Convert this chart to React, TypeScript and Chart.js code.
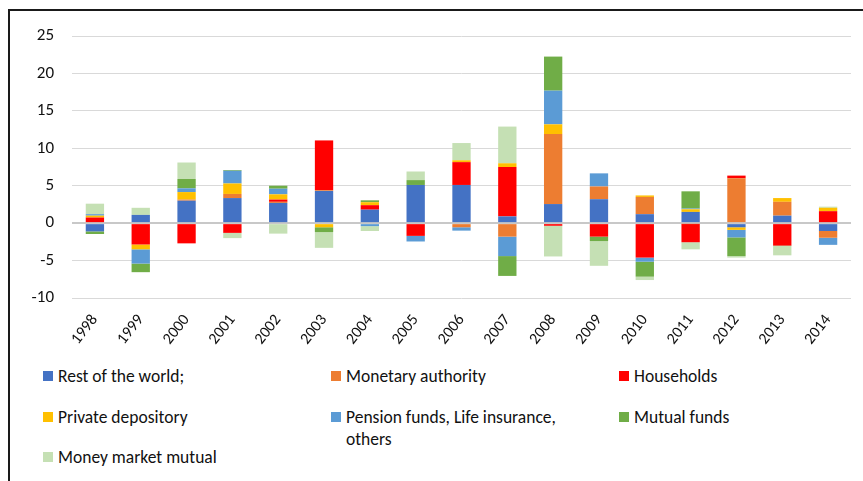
import React, { useEffect, useRef } from "react";
import { Chart, registerables } from "chart.js";

Chart.register(...registerables);

const years = ["1998","1999","2000","2001","2002","2003","2004","2005","2006","2007","2008","2009","2010","2011","2012","2013","2014"];

const restOfWorld = [-1.1, 1.1, 3.0, 3.35, 2.7, 4.3, 1.8, 5.1, 5.1, 0.9, 2.55, 3.2, 1.2, 1.5, -0.55, 1.0, -1.05];
const monetaryAuthority = [0, 0, 0.15, 0.55, 0.15, 0.1, 0, 0, -0.55, -1.8, 9.35, 1.7, 2.3, -0.1, 6.0, 1.85, -0.9];
const households = [0.75, -2.85, -2.7, -1.3, 0.3, 6.65, 0.6, -1.7, 3.05, 6.6, -0.35, -1.8, -4.6, -2.45, 0.35, -3.0, 1.6];
const privateDepository = [0.25, -0.65, 1.0, 1.4, 0.7, -0.55, 0.4, 0, 0.25, 0.5, 1.3, 0, 0.2, 0.35, -0.35, 0.5, 0.45];
const pensionFunds = [0.2, -1.9, 0.5, 1.7, 0.75, 0, -0.4, -0.75, -0.45, -2.6, 4.5, 1.75, -0.55, 0.1, -1.0, 0, -0.95];
const mutualFunds = [-0.35, -1.15, 1.25, 0.1, 0.4, -0.65, 0.25, 0.65, 0, -2.65, 4.55, -0.6, -2.0, 2.3, -2.5, -0.05, 0];
const moneyMarket = [1.4, 0.95, 2.2, -0.7, -1.4, -2.1, -0.65, 1.15, 2.3, 4.9, -4.1, -3.3, -0.45, -0.95, -0.2, -1.25, 0.15];

const seriesNames = [
  "Rest of the world;",
  "Monetary authority",
  "Households",
  "Private depository",
  "Pension funds, Life insurance, others",
  "Mutual funds",
  "Money market mutual",
];
const seriesColors = ["#4472C4", "#ED7D31", "#FF0000", "#FFC000", "#5B9BD5", "#70AD47", "#C5E0B4"];
const seriesValues = [restOfWorld, monetaryAuthority, households, privateDepository, pensionFunds, mutualFunds, moneyMarket];

const yTicks = [-10, -5, 0, 5, 10, 15, 20, 25];

const FONT = "Carlito, Calibri, Lato, 'Open Sans', sans-serif";

// legend layout: [left, rowCenterY]
const legendPos: [number, number][] = [
  [43, 376], [331, 376], [619, 376],
  [43, 417], [331, 417], [619, 417],
  [43, 457],
];

export default function App() {
  const ref = useRef<HTMLCanvasElement | null>(null);

  useEffect(() => {
    if (!ref.current) return;
    const chart = new Chart(ref.current, {
      type: "bar",
      data: {
        labels: years,
        datasets: seriesNames.map((n, i) => ({
          label: n,
          data: seriesValues[i],
          backgroundColor: seriesColors[i],
          borderWidth: 0,
          stack: "s",
        })),
      },
      options: {
        animation: false,
        responsive: false,
        devicePixelRatio: 1,
        layout: { padding: { top: 36, right: 12, left: 0, bottom: 0 } },
        plugins: { legend: { display: false }, tooltip: { enabled: false } },
        datasets: { bar: { categoryPercentage: 1, barPercentage: 0.4 } },
        scales: {
          x: {
            stacked: true,
            grid: { display: false, drawTicks: false },
            border: { display: false },
            ticks: {
              minRotation: 52,
              maxRotation: 52,
              padding: 13,
              color: "#111",
              font: { family: FONT, size: 16 },
            },
            afterFit: (s: any) => { s.height = 52; },
          },
          y: {
            stacked: true,
            min: -10,
            max: 25,
            afterBuildTicks: (s: any) => { s.ticks = yTicks.map((v) => ({ value: v })); },
            grid: {
              drawTicks: false,
              color: (c: any) => (c.tick && c.tick.value === 0 ? "#c8c8c8" : "#d9d9d9"),
              lineWidth: (c: any) => (c.tick && c.tick.value === 0 ? 2 : 1),
            },
            border: { display: false },
            ticks: {
              padding: 18,
              color: "#111",
              font: { family: FONT, size: 17 },
            },
            afterFit: (s: any) => { s.width = 72; },
          },
        },
      },
    });
    return () => chart.destroy();
  }, []);

  return (
    <div style={{ position: "absolute", left: 0, top: 0, width: 863, height: 481, overflow: "hidden", background: "#fff", fontFamily: FONT }}>
      <div style={{ position: "absolute", left: 8, top: 9, width: 900, height: 500, borderTop: "2px solid #1a1a1a", borderLeft: "2px solid #1a1a1a", boxSizing: "border-box" }} />
      <canvas ref={ref} width={863} height={350} style={{ position: "absolute", left: 0, top: 0, width: 863, height: 350 }} />
      {seriesNames.map((n, i) => (
        <div key={n} style={{ position: "absolute", left: legendPos[i][0], top: legendPos[i][1] - 11, width: 260, lineHeight: "22px", fontSize: 17.5, color: "#111" }}>
          <span style={{ position: "absolute", left: 0, top: 6, width: 10, height: 10, background: seriesColors[i] }} />
          <div style={{ marginLeft: 15, width: 235 }}>{n}</div>
        </div>
      ))}
    </div>
  );
}
